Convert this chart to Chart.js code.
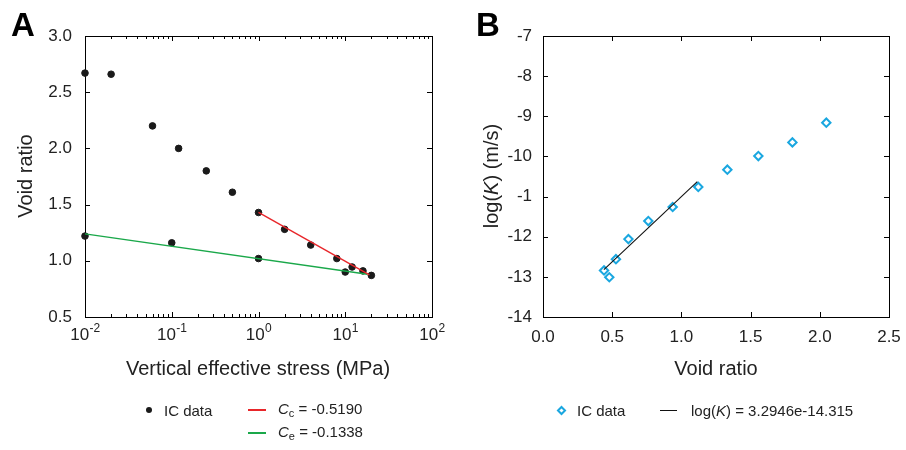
<!DOCTYPE html>
<html>
<head>
<meta charset="utf-8">
<script src="https://cdn.jsdelivr.net/npm/chart.js@4.4.0/dist/chart.umd.min.js"></script>
<style>
  body { margin: 0; background: #fff; font-family: "Liberation Sans", Arial, sans-serif; color: #222; }
  #wrap { position: relative; width: 906px; height: 450px; overflow: hidden; }
  canvas { position: absolute; top: 0; }
  .t { position: absolute; white-space: nowrap; line-height: 1; }
  .c { transform: translate(-50%, -50%); }
  .rot { transform: translate(-50%, -50%) rotate(-90deg); }
  .mid { transform: translateY(-50%); }
  .letter { font-weight: bold; font-size: 33px; color: #000; }
  .title { font-size: 20px; }
  .leg { font-size: 15px; }
  sub { font-size: 11px; vertical-align: -3px; }
  .sw { position: absolute; }
</style>
</head>
<body>
<div id="wrap">
  <canvas id="chartA" width="453" height="450" style="left:0"></canvas>
  <canvas id="chartB" width="453" height="450" style="left:453px"></canvas>

  <div class="t letter" style="left:11px;top:8px">A</div>
  <div class="t letter" style="left:476px;top:8px">B</div>

  <div class="t title rot" style="left:25px;top:176px">Void ratio</div>
  <div class="t title c" style="left:258px;top:368px">Vertical effective stress (MPa)</div>
  <div class="t title rot" style="left:491px;top:176px">log(<i>K</i>) (m/s)</div>
  <div class="t title c" style="left:716px;top:368px">Void ratio</div>

  <!-- legend A -->
  <div class="sw" style="left:146px;top:407px;width:6px;height:6px;border-radius:50%;background:#1a1a1a"></div>
  <div class="t leg mid" style="left:164px;top:410px">IC data</div>
  <div class="sw" style="left:248px;top:409px;width:18px;height:1.5px;background:#e8262a"></div>
  <div class="t leg mid" style="left:278px;top:410px"><i>C</i><sub>c</sub> = -0.5190</div>
  <div class="sw" style="left:248px;top:432px;width:18px;height:1.5px;background:#1aa84a"></div>
  <div class="t leg mid" style="left:278px;top:433px"><i>C</i><sub>e</sub> = -0.1338</div>

  <!-- legend B -->
  <div class="sw" style="left:557.5px;top:406.5px;width:3px;height:3px;border:2px solid #1aa7e0;transform:rotate(45deg);box-sizing:content-box"></div>
  <div class="t leg mid" style="left:577px;top:410px">IC data</div>
  <div class="sw" style="left:660px;top:409.5px;width:17px;height:1.3px;background:#111"></div>
  <div class="t leg mid" style="left:691px;top:410px">log(<i>K</i>) = 3.2946e-14.315</div>
</div>

<script>
// Panel A: consolidation data
const loadStress = [0.01, 0.02, 0.06, 0.12, 0.25, 0.5, 1, 2, 4, 8, 12, 16, 20];
const loadVoid = [2.67, 2.66, 2.20, 2.00, 1.80, 1.61, 1.43, 1.28, 1.14, 1.02, 0.945, 0.91, 0.87];
const unloadStress = [10, 1, 0.1, 0.01];
const unloadVoid = [0.90, 1.02, 1.16, 1.22];
const ccLineStress = [1, 19];
const ccLineVoid = [1.43, 0.875];
const ceLineStress = [0.01, 18];
const ceLineVoid = [1.24, 0.88];
const stressTicks = [0.01, 0.1, 1, 10, 100];
const stressTickExp = ['-2', '-1', '0', '1', '2'];

// Panel B: permeability data
const kVoid = [0.441, 0.479, 0.527, 0.617, 0.761, 0.937, 1.122, 1.332, 1.556, 1.802, 2.047];
const kLog = [-12.84, -13.01, -12.56, -12.06, -11.61, -11.26, -10.76, -10.33, -9.99, -9.65, -9.16];
const fitVoid = [0.44, 1.115];
const fitLog = [-12.82, -10.63];
const logKTicks = [-14, -13, -12, -11, -10, -9, -8, -7];
const logKTickLabels = ['-14', '-13', '-12', '-1', '-10', '-9', '-8', '-7'];

const FONT = { family: '"Liberation Sans", Arial, sans-serif', size: 17 };
const pairs = (xs, ys) => xs.map((x, i) => ({ x: x, y: ys[i] }));

// draws the box and inward ticks on all four sides
const frameTicks = {
  id: 'frameTicks',
  beforeDatasetsDraw(chart, args, opts) {
    const { ctx, chartArea: a, scales: { x, y } } = chart;
    ctx.save();
    ctx.strokeStyle = '#000';
    ctx.lineWidth = 1;
    ctx.strokeRect(Math.round(a.left) + 0.5, Math.round(a.top) + 0.5,
      Math.round(a.right - a.left), Math.round(a.bottom - a.top));
    ctx.beginPath();
    const tx = (v, len) => {
      const p = Math.round(x.getPixelForValue(v)) + 0.5;
      ctx.moveTo(p, a.bottom); ctx.lineTo(p, a.bottom - len);
      ctx.moveTo(p, a.top); ctx.lineTo(p, a.top + len);
    };
    const ty = (v, len) => {
      const p = Math.round(y.getPixelForValue(v)) + 0.5;
      ctx.moveTo(a.left, p); ctx.lineTo(a.left + len, p);
      ctx.moveTo(a.right, p); ctx.lineTo(a.right - len, p);
    };
    (opts.xMajor || []).forEach(v => tx(v, 5));
    (opts.xMinor || []).forEach(v => tx(v, 3));
    (opts.yMajor || []).forEach(v => ty(v, 5));
    ctx.stroke();
    ctx.restore();
  },
  afterDraw(chart, args, opts) {
    if (!opts.powerLabels) return;
    const { ctx, chartArea: a, scales: { x } } = chart;
    ctx.save();
    ctx.fillStyle = '#222';
    ctx.textBaseline = 'alphabetic';
    ctx.textAlign = 'left';
    stressTicks.forEach((v, i) => {
      const base = '10', exp = stressTickExp[i];
      ctx.font = '17px ' + FONT.family;
      const wb = ctx.measureText(base).width;
      ctx.font = '12px ' + FONT.family;
      const we = ctx.measureText(exp).width;
      const x0 = x.getPixelForValue(v) - (wb + we) / 2;
      ctx.font = '17px ' + FONT.family;
      ctx.fillText(base, x0, a.bottom + 23);
      ctx.font = '12px ' + FONT.family;
      ctx.fillText(exp, x0 + wb + 0.5, a.bottom + 15);
    });
    ctx.restore();
  }
};

const minorLog = [];
[0.01, 0.1, 1, 10].forEach(d => { for (let k = 2; k <= 9; k++) minorLog.push(k * d); });

new Chart(document.getElementById('chartA'), {
  type: 'scatter',
  data: {
    datasets: [
      { label: 'Cc', type: 'line', data: pairs(ccLineStress, ccLineVoid), borderColor: '#e8262a',
        borderWidth: 1.4, pointRadius: 0, clip: false },
      { label: 'Ce', type: 'line', data: pairs(ceLineStress, ceLineVoid), borderColor: '#1aa84a',
        borderWidth: 1.4, pointRadius: 0, clip: false },
      { label: 'IC data', data: pairs(loadStress, loadVoid), backgroundColor: '#1a1a1a',
        borderColor: '#1a1a1a', pointRadius: 3.3, clip: false },
      { label: 'IC data unload', data: pairs(unloadStress, unloadVoid), backgroundColor: '#1a1a1a',
        borderColor: '#1a1a1a', pointRadius: 3.3, clip: false }
    ]
  },
  options: {
    responsive: false,
    animation: false,
    layout: { padding: { left: 0, top: 36, right: 21, bottom: 0 } },
    plugins: {
      legend: { display: false },
      tooltip: { enabled: false },
      frameTicks: { xMajor: stressTicks, xMinor: minorLog, yMajor: [0.5, 1, 1.5, 2, 2.5, 3], powerLabels: true }
    },
    scales: {
      x: {
        type: 'logarithmic', min: 0.01, max: 100,
        grid: { display: false }, border: { display: false },
        ticks: { display: false },
        afterFit(s) { s.height = 450 - 317; }
      },
      y: {
        min: 0.5, max: 3.0,
        grid: { display: false }, border: { display: false },
        ticks: { stepSize: 0.5, font: FONT, color: '#222', padding: 5, callback: v => v.toFixed(1) },
        afterFit(s) { s.width = 85; }
      }
    }
  },
  plugins: [frameTicks]
});

new Chart(document.getElementById('chartB'), {
  type: 'scatter',
  data: {
    datasets: [
      { label: 'fit', type: 'line', data: pairs(fitVoid, fitLog), borderColor: '#111',
        borderWidth: 1.1, pointRadius: 0, clip: false },
      { label: 'IC data', data: pairs(kVoid, kLog), pointStyle: 'rectRot', pointRadius: 4.2,
        borderWidth: 2, borderColor: '#1aa7e0', backgroundColor: '#fff', clip: false }
    ]
  },
  options: {
    responsive: false,
    animation: false,
    layout: { padding: { left: 0, top: 36, right: 17, bottom: 0 } },
    plugins: {
      legend: { display: false },
      tooltip: { enabled: false },
      frameTicks: { xMajor: [0, 0.5, 1, 1.5, 2, 2.5], yMajor: logKTicks }
    },
    scales: {
      x: {
        min: 0, max: 2.5,
        grid: { display: false }, border: { display: false },
        ticks: { stepSize: 0.5, font: FONT, color: '#222', padding: 2, maxRotation: 0, callback: v => v.toFixed(1) },
        afterFit(s) { s.height = 450 - 317; }
      },
      y: {
        min: -14, max: -7,
        grid: { display: false }, border: { display: false },
        ticks: { stepSize: 1, font: FONT, color: '#222', padding: 3,
          callback: v => logKTickLabels[logKTicks.indexOf(v)] },
        afterFit(s) { s.width = 90; }
      }
    }
  },
  plugins: [frameTicks]
});
</script>
</body>
</html>
